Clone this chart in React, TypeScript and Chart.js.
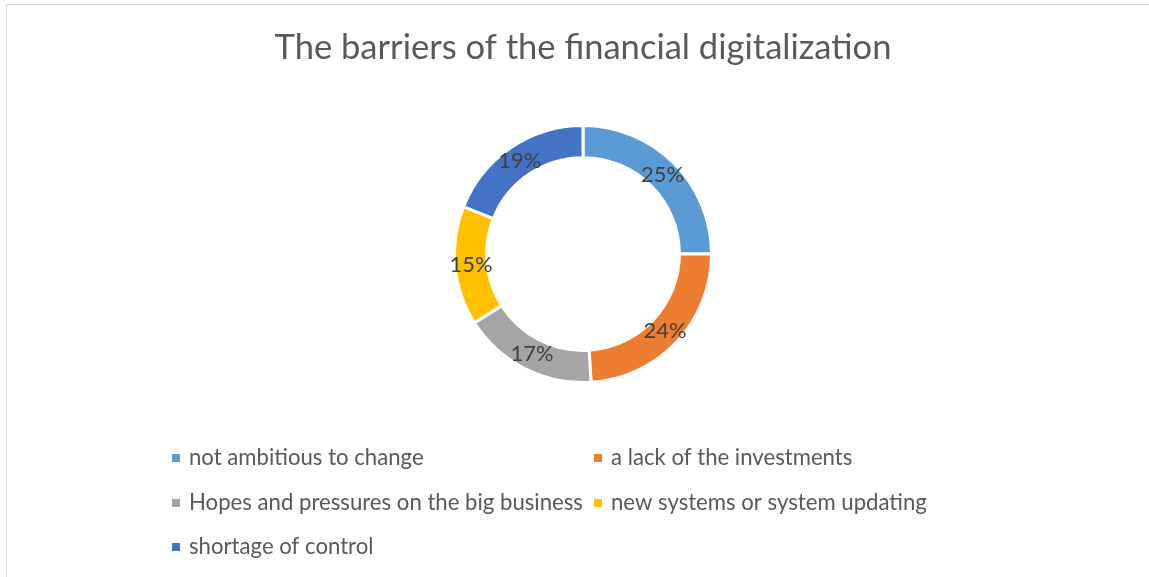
import React, { useEffect, useRef } from "react";
import { Chart, registerables } from "chart.js";

Chart.register(...registerables);

const TITLE = "The barriers of the financial digitalization";
const categories = [
  "not ambitious to change",
  "a lack of the investments",
  "Hopes and pressures on the big business",
  "new systems or system updating",
  "shortage of control",
];
const shares = [25, 24, 17, 15, 19];
const colors = ["#5B9BD5", "#ED7D31", "#A5A5A5", "#FFC000", "#4472C4"];

const FONT = "Lato, 'Open Sans', sans-serif";

function fitSize(ctx: CanvasRenderingContext2D, text: string, target: number, weight = "normal") {
  ctx.font = `${weight} 100px ${FONT}`;
  const w = ctx.measureText(text).width;
  return (100 * target) / w;
}

const customPlugin = {
  id: "excelLook",
  beforeDraw(chart: any) {
    const ctx = chart.ctx as CanvasRenderingContext2D;
    ctx.save();
    ctx.fillStyle = "#ffffff";
    ctx.fillRect(0, 0, chart.width, chart.height);
    ctx.strokeStyle = "#d9d9d9";
    ctx.lineWidth = 1;
    ctx.strokeRect(6.5, 4.5, chart.width + 20, chart.height + 20);
    ctx.restore();
  },
  afterDraw(chart: any) {
    const ctx = chart.ctx as CanvasRenderingContext2D;
    ctx.save();
    // title
    const ts = fitSize(ctx, TITLE, 617);
    ctx.font = `${ts}px ${FONT}`;
    ctx.fillStyle = "#595959";
    ctx.textAlign = "center";
    ctx.textBaseline = "middle";
    ctx.fillText(TITLE, 583, 48);

    // data labels
    const meta = chart.getDatasetMeta(0);
    const ls = fitSize(ctx, "25%", 43);
    ctx.font = `${ls}px ${FONT}`;
    ctx.fillStyle = "#404040";
    meta.data.forEach((arc: any, i: number) => {
      const p = arc.getProps(["x", "y", "startAngle", "endAngle", "innerRadius", "outerRadius"], true);
      const mid = (p.startAngle + p.endAngle) / 2;
      const r = (p.innerRadius + p.outerRadius) / 2;
      const v = chart.data.datasets[0].data[i];
      ctx.fillText(`${v}%`, p.x + Math.cos(mid) * r, p.y + Math.sin(mid) * r);
    });

    // legend
    const gs = fitSize(ctx, categories[2], 394);
    ctx.font = `${gs}px ${FONT}`;
    ctx.textAlign = "left";
    ctx.textBaseline = "middle";
    const cols = [172, 594];
    const rows = [458, 503, 547];
    chart.data.labels.forEach((lab: string, i: number) => {
      const x = cols[i % 2];
      const y = rows[Math.floor(i / 2)];
      ctx.fillStyle = chart.data.datasets[0].backgroundColor[i];
      ctx.fillRect(x, y - 4, 8, 8);
      ctx.fillStyle = "#595959";
      ctx.fillText(lab, x + 17, y);
    });
    ctx.restore();
  },
};

export default function App() {
  const ref = useRef<HTMLCanvasElement>(null);
  useEffect(() => {
    document.body.style.margin = "0";
    const chart = new Chart(ref.current!, {
      type: "doughnut",
      data: {
        labels: categories,
        datasets: [
          {
            data: shares,
            backgroundColor: colors,
            borderColor: "#ffffff",
            borderWidth: 3,
          },
        ],
      },
      options: {
        responsive: false,
        animation: false,
        cutout: "75%",
        layout: { padding: { top: 124, bottom: 193, left: 17, right: 0 } },
        plugins: {
          legend: { display: false },
          title: { display: false },
          tooltip: { enabled: false },
        },
      },
      plugins: [customPlugin],
    });
    return () => chart.destroy();
  }, []);
  return (
    <div style={{ position: "absolute", left: 0, top: 0, width: 1149, height: 577 }}>
      <canvas ref={ref} width={1149} height={577} style={{ display: "block" }} />
    </div>
  );
}
